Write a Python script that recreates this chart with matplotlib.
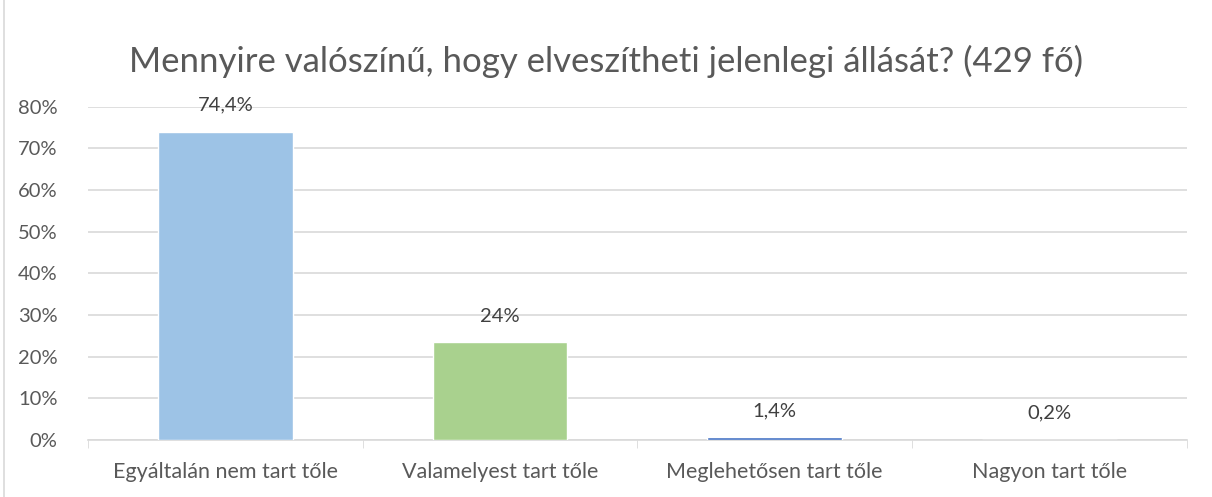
import matplotlib.pyplot as plt
from matplotlib.patches import Rectangle

categories = ['Egyáltalán nem tart tőle', 'Valamelyest tart tőle',
              'Meglehetősen tart tőle', 'Nagyon tart tőle']
values = [74.0, 23.4, 0.7, 0.1]
labels = ['74,4%', '24%', '1,4%', '0,2%']
colors = ['#9DC3E6', '#A9D18E', '#4472C4', '#FFC000']

plt.rcParams['font.family'] = ['Lato', 'DejaVu Sans']
text_col = '#595959'

fig = plt.figure(figsize=(12.12, 4.97), dpi=100)
fig.patches.append(Rectangle((0.003, -0.01), 1.2, 1.2, transform=fig.transFigure,
                             fill=False, edgecolor='#D9D9D9', linewidth=1.2))
ax = fig.add_axes([0.0726, 0.1147, 0.9066, 0.671])

x = list(range(len(categories)))
ax.bar(x, values, width=0.49, color=colors, edgecolor='white', linewidth=1.0, zorder=3)
for xi, v, lab in zip(x, values, labels):
    ax.annotate(lab, (xi, v), xytext=(0, 19), textcoords='offset points', ha='center',
                va='center', fontsize=14.5, color='#404040')

ax.set_xlim(-0.5, 3.5)
ax.set_ylim(0, 80)
ax.set_yticks(range(0, 81, 10))
ax.set_yticklabels([f'{t}%' for t in range(0, 81, 10)])
ax.set_xticks(x)
ax.set_xticklabels(categories)
ax.set_xticks([-0.5, 0.5, 1.5, 2.5, 3.5], minor=True)
ax.tick_params(axis='x', which='major', length=0, pad=16, labelsize=15.5, labelcolor=text_col)
ax.tick_params(axis='x', which='minor', length=6, color='#D9D9D9')
ax.tick_params(axis='y', length=0, pad=22, labelsize=14.5, labelcolor=text_col)
ax.yaxis.grid(True, color='#D9D9D9', linewidth=1.2, zorder=0)
ax.set_axisbelow(True)
for s in ['top', 'right', 'left']:
    ax.spines[s].set_visible(False)
ax.spines['bottom'].set_color('#D9D9D9')
ax.spines['bottom'].set_linewidth(1.2)

fig.text(0.5, 0.877, 'Mennyire valószínű, hogy elveszítheti jelenlegi állását? (429 fő)',
         ha='center', va='center', fontsize=25, color=text_col)

fig.savefig('out.png', dpi=100)
